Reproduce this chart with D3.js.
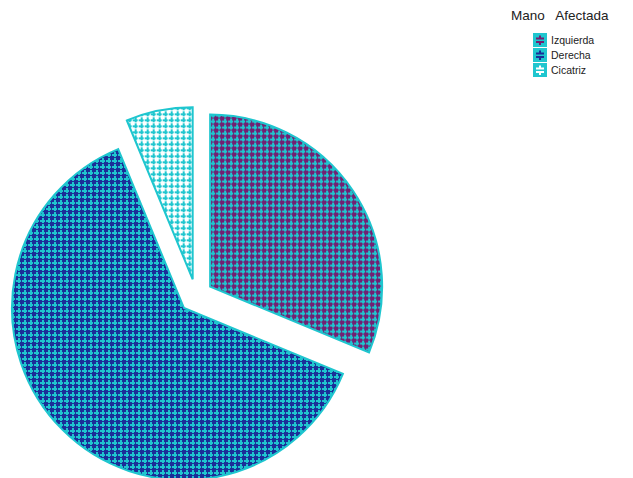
<!DOCTYPE html>
<html>
<head>
<meta charset="utf-8">
<script src="https://cdn.jsdelivr.net/npm/d3@7"></script>
<style>
  html, body { margin: 0; padding: 0; background: #fff; }
  svg { display: block; }
  text { font-family: "Liberation Sans", Arial, sans-serif; }
</style>
</head>
<body>
<svg id="chart" width="633" height="478"></svg>
<script>
// Mano afectada: counts per category
const categories = ["Izquierda", "Derecha", "Cicatriz"];
const counts = [10, 20, 2];
const legendTitle = "Mano   Afectada";

const fills = { "Izquierda": "#731f72", "Derecha": "#1b2e98", "Cicatriz": "#ffffff" };
const accent = "#1fc6cf";

const svg = d3.select("#chart");
const defs = svg.append("defs");

// Tile: cyan crosses almost touching, over the category colour
categories.forEach((c, i) => {
  const p = defs.append("pattern")
    .attr("id", "pat" + i)
    .attr("patternUnits", "userSpaceOnUse")
    .attr("width", 6).attr("height", 6);
  p.append("rect").attr("width", 6).attr("height", 6).attr("fill", fills[c]);
  p.append("path")
    .attr("d", "M0,2H5V4H0ZM2,0H4V5H2Z")
    .attr("fill", accent)
    .attr("shape-rendering", "crispEdges");
});

const cx = 196, cy = 296, r = 172, explode = 17;

const pie = d3.pie().sort(null).value(d => d.value);
const arcs = pie(categories.map((c, i) => ({ cat: c, value: counts[i], i })));
const arc = d3.arc().innerRadius(0).outerRadius(r);

const g = svg.append("g").attr("transform", `translate(${cx},${cy})`);
g.selectAll("path.slice")
  .data(arcs)
  .enter().append("path")
  .attr("class", "slice")
  .attr("transform", d => {
    const a = (d.startAngle + d.endAngle) / 2;
    return `translate(${Math.sin(a) * explode},${-Math.cos(a) * explode})`;
  })
  .attr("d", arc)
  .attr("fill", d => `url(#pat${d.data.i})`)
  .attr("stroke", accent)
  .attr("stroke-width", 2)
  .attr("stroke-linejoin", "miter");

// Legend
const lg = svg.append("g");
lg.append("text")
  .attr("x", 511).attr("y", 20)
  .attr("font-size", 13.5)
  .attr("fill", "#222")
  .attr("xml:space", "preserve")
  .style("white-space", "pre")
  .text(legendTitle);

const keyY = d3.scaleBand().domain(categories).range([33, 78]).padding(0);
const items = lg.selectAll("g.item").data(categories).enter().append("g")
  .attr("class", "item")
  .attr("transform", d => `translate(533,${keyY(d)})`);
items.append("rect")
  .attr("width", 14).attr("height", keyY.bandwidth() - 1)
  .attr("fill", accent);
items.append("path")
  .attr("transform", "translate(7,7)")
  .attr("d", "M-4,-2.5H-1V-4.5H1V-2.5H4V-0.5H-4ZM-4,1H4V3H1V5H-1V3H-4Z")
  .attr("fill", d => fills[d]);
items.append("text")
  .attr("x", 18).attr("y", 11)
  .attr("font-size", 10.5)
  .attr("fill", "#222")
  .text(d => d);
</script>
</body>
</html>
